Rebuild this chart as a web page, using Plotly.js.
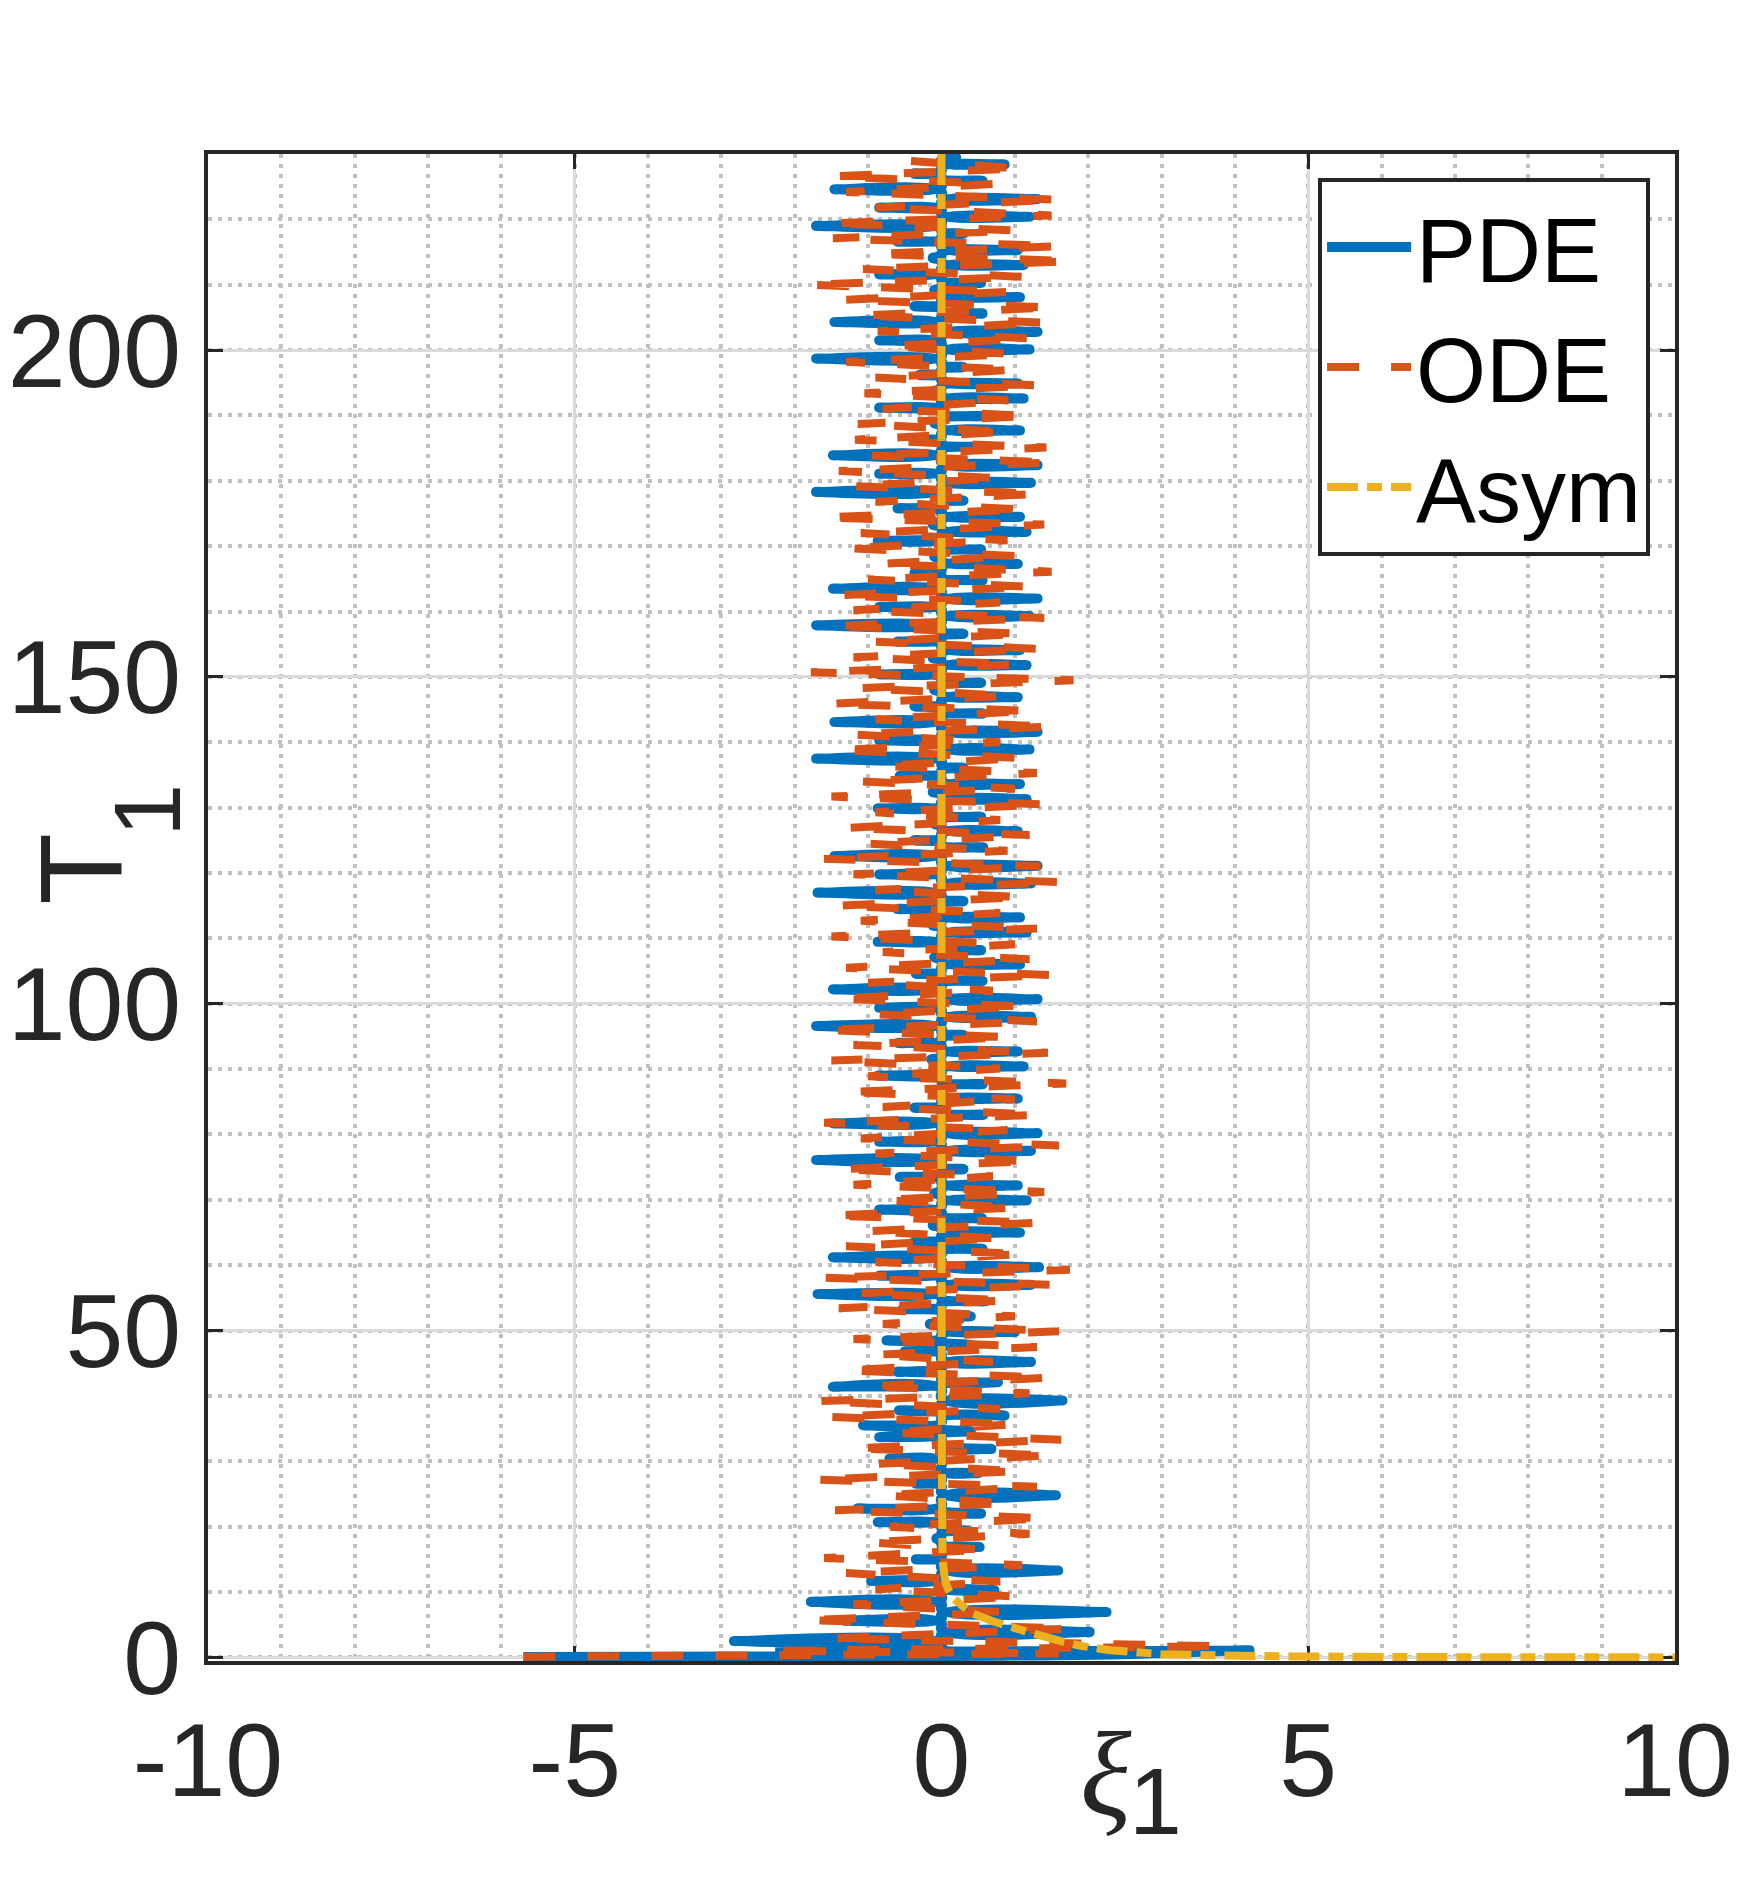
<!DOCTYPE html>
<html>
<head>
<meta charset="utf-8">
<script src="https://cdn.plot.ly/plotly-3.0.1.min.js"></script>
<style>
  html, body { margin: 0; padding: 0; background: #fff; }
  #chart { width: 1764px; height: 1882px; }
</style>
</head>
<body>
<div id="chart"></div>
<script>
// PDE trajectory: each swing leaves the centre line,
// reaches its tip and comes back (centre, tip, centre)
const pdeT = [
  0.05, 0.2, 0.4, 0.55, 0.75, 0.9, 1.1, 1.4,
  2.15,2.5,2.85, 3.55,3.9,4.25, 5.25,5.6,5.95, 6.6,6.95,7.3, 8.15,8.5,8.85,
  9.95,10.3,10.65, 11.35,11.7,12.05, 12.95,13.3,13.65, 14.65,15.0,15.35, 16.55,16.9,17.25,
  17.85,18.2,18.55, 19.05,19.4,19.75, 20.35,20.7,21.05, 21.65,22.0,22.35, 22.45,22.8,23.15,
  24.45,24.8,25.15, 26.25,26.6,26.95, 27.85,28.2,28.55, 30.05,30.4,30.75, 31.55,31.9,32.25,
  33.35,33.7,34.05, 34.25,34.6,34.95, 35.15,35.5,35.85, 36.65,37.0,37.35, 37.45,37.8,38.15,
  38.95,39.3,39.65, 41.05,41.4,41.75, 41.85,42.1,42.35, 43.35,43.7,44.05, 44.85,45.2,45.55,
  46.45,46.8,47.15, 47.45,47.8,48.15, 48.2,48.5,48.85, 49.45,49.8,50.15, 50.65,51.0,51.35,
  51.85,52.2,52.55, 52.95,53.3,53.65, 54.15,54.5,54.85,
  55.25,55.6,55.95, 56.65,57.0,57.35, 58.05,58.4,58.75, 59.35,59.7,60.05, 60.85,61.2,61.55, 62.15,62.5,62.85,
  63.25,63.6,63.95, 64.65,65.0,65.35, 65.75,66.1,66.45, 66.85,67.2,67.55, 68.15,68.5,68.85, 69.55,69.9,70.25,
  70.65,71.0,71.35, 71.85,72.2,72.55, 73.15,73.5,73.85, 74.35,74.7,75.05,
  75.75,76.1,76.45, 77.15,77.5,77.85, 78.55,78.9,79.25, 79.85,80.2,80.55, 81.35,81.7,82.05, 82.65,83.0,83.35,
  83.75,84.1,84.45, 85.15,85.5,85.85, 86.25,86.6,86.95, 87.35,87.7,88.05, 88.65,89.0,89.35, 90.05,90.4,90.75,
  91.15,91.5,91.85, 92.35,92.7,93.05, 93.65,94.0,94.35, 94.85,95.2,95.55,
  96.25,96.6,96.95, 97.65,98.0,98.35, 99.05,99.4,99.75, 100.35,100.7,101.05, 101.85,102.2,102.55, 103.15,103.5,103.85,
  104.25,104.6,104.95, 105.65,106.0,106.35, 106.75,107.1,107.45, 107.85,108.2,108.55, 109.15,109.5,109.85, 110.55,110.9,111.25,
  111.65,112.0,112.35, 112.85,113.2,113.55, 114.15,114.5,114.85, 115.35,115.7,116.05,
  116.65,117.0,117.35, 118.05,118.4,118.75, 119.45,119.8,120.15, 120.75,121.1,121.45, 122.25,122.6,122.95, 123.55,123.9,124.25,
  124.65,125.0,125.35, 126.05,126.4,126.75, 127.15,127.5,127.85, 128.25,128.6,128.95, 129.55,129.9,130.25, 130.95,131.3,131.65,
  132.05,132.4,132.75, 133.25,133.6,133.95, 134.55,134.9,135.25, 135.75,136.1,136.45,
  137.15,137.5,137.85, 138.55,138.9,139.25, 139.95,140.3,140.65, 141.25,141.6,141.95, 142.75,143.1,143.45, 144.05,144.4,144.75,
  145.15,145.5,145.85, 146.55,146.9,147.25, 147.65,148.0,148.35, 148.75,149.1,149.45, 150.05,150.4,150.75, 151.45,151.8,152.15,
  152.55,152.9,153.25, 153.75,154.1,154.45, 155.05,155.4,155.75, 156.25,156.6,156.95,
  157.55,157.9,158.25, 158.95,159.3,159.65, 160.35,160.7,161.05, 161.65,162.0,162.35, 163.15,163.5,163.85, 164.45,164.8,165.15,
  165.55,165.9,166.25, 166.95,167.3,167.65, 168.05,168.4,168.75, 169.15,169.5,169.85, 170.45,170.8,171.15, 171.85,172.2,172.55,
  172.95,173.3,173.65, 174.15,174.5,174.85, 175.45,175.8,176.15, 176.65,177.0,177.35,
  177.95,178.3,178.65, 179.35,179.7,180.05, 180.75,181.1,181.45, 182.05,182.4,182.75, 183.55,183.9,184.25, 184.85,185.2,185.55,
  185.95,186.3,186.65, 187.35,187.7,188.05, 188.45,188.8,189.15, 189.55,189.9,190.25, 190.85,191.2,191.55, 192.25,192.6,192.95,
  193.35,193.7,194.05, 194.55,194.9,195.25, 195.85,196.2,196.55, 197.05,197.4,197.75,
  198.35,198.7,199.05, 199.75,200.1,200.45, 201.15,201.5,201.85, 202.45,202.8,203.15, 203.95,204.3,204.65, 205.25,205.6,205.95,
  206.35,206.7,207.05, 207.75,208.1,208.45, 208.85,209.2,209.55, 209.95,210.3,210.65, 211.25,211.6,211.95, 212.65,213.0,213.35,
  213.75,214.1,214.45, 214.95,215.3,215.65, 216.25,216.6,216.95, 217.45,217.8,218.15,
  218.65,219.0,219.35, 220.05,220.4,220.75, 221.45,221.8,222.15, 222.75,223.1,223.45, 224.25,224.6,224.95, 225.55,225.9,226.25,
  226.65,227.0,227.35, 228.05,228.4,228.75, 229.15,229.5,229.85
];
const pdeXi = [
  -5.7, 0, 1.7, 0, -2.2, 0, 4.2, 0,
  0,-2.83,0, 0,2.02,0, 0,-1.32,0, 0,2.25,0, 0,-1.78,0,
  0,0.72,0, 0,-0.96,0, 0,1.59,0, 0,-0.35,0, 0,0.52,0,
  0,-0.07,0, 0,0.35,0, 0,-0.87,0, 0,0.54,0, 0,-1.14,0,
  0,1.56,0, 0,-0.35,0, 0,0.5,0, 0,-0.71,0, 0,0.68,0,
  0,-0.85,0, 0,0.4,0, 0,-1.07,0, 0,0.86,0, 0,-0.58,0,
  0,1.65,0, 0,-1.48,0, 0,0.77,0, 0,-0.6,0, 0,1.22,0,
  0,-0.5,0, 0,0.4,0, 0,-0.75,0, 0,1.0,0, 0,-0.16,0,
  0,0.4,0, 0,-0.53,0, 0,0.6,0,
  0,-1.69,0, 0,1.22,0, 0,-0.85,0, 0,1.33,0, 0,-1.48,0, 0,0.56,0,
  0,-0.37,0, 0,1.07,0, 0,-0.12,0, 0,0.55,0, 0,-0.85,0, 0,1.16,0,
  0,-0.1,0, 0,1.04,0, 0,-0.57,0, 0,0.3,0,
  0,-1.71,0, 0,1.22,0, 0,-0.85,0, 0,1.31,0, 0,-1.48,0, 0,0.57,0,
  0,-0.37,0, 0,1.04,0, 0,-0.1,0, 0,0.56,0, 0,-0.87,0, 0,1.12,0,
  0,-0.14,0, 0,1.04,0, 0,-0.59,0, 0,0.3,0,
  0,-1.71,0, 0,1.22,0, 0,-0.85,0, 0,1.31,0, 0,-1.48,0, 0,0.56,0,
  0,-0.35,0, 0,1.07,0, 0,-0.1,0, 0,0.54,0, 0,-0.87,0, 0,1.16,0,
  0,-0.12,0, 0,1.07,0, 0,-0.6,0, 0,0.3,0,
  0,-1.69,0, 0,1.22,0, 0,-0.85,0, 0,1.31,0, 0,-1.46,0, 0,0.57,0,
  0,-0.37,0, 0,1.04,0, 0,-0.1,0, 0,0.54,0, 0,-0.87,0, 0,1.16,0,
  0,-0.12,0, 0,1.07,0, 0,-0.57,0, 0,0.3,0,
  0,-1.71,0, 0,1.2,0, 0,-0.85,0, 0,1.31,0, 0,-1.46,0, 0,0.56,0,
  0,-0.37,0, 0,1.04,0, 0,-0.1,0, 0,0.54,0, 0,-0.85,0, 0,1.16,0,
  0,-0.12,0, 0,1.07,0, 0,-0.6,0, 0,0.3,0,
  0,-1.71,0, 0,1.2,0, 0,-0.85,0, 0,1.31,0, 0,-1.48,0, 0,0.56,0,
  0,-0.37,0, 0,1.04,0, 0,-0.1,0, 0,0.54,0, 0,-0.87,0, 0,1.16,0,
  0,-0.12,0, 0,1.07,0, 0,-0.6,0, 0,0.3,0,
  0,-1.71,0, 0,1.22,0, 0,-0.85,0, 0,1.31,0, 0,-1.48,0, 0,0.56,0,
  0,-0.3,0, 0,1.07,0, 0,-0.1,0, 0,0.54,0, 0,-0.85,0, 0,1.12,0,
  0,-0.12,0, 0,1.04,0, 0,-0.3,0, 0,0.3,0,
  0,-1.71,0, 0,1.2,0, 0,-0.85,0, 0,1.31,0, 0,-1.46,0, 0,0.56,0,
  0,-0.37,0, 0,1.07,0, 0,-0.1,0, 0,0.54,0, 0,-0.85,0, 0,1.12,0,
  0,-0.12,0, 0,1.04,0, 0,-0.6,0, 0,0.3,0,
  0,-1.71,0, 0,1.2,0, 0,-0.85,0, 0,1.31,0, 0,-1.46,0, 0,0.56,0,
  0,-0.38,0, 0,0.86,0, 0,0.2,0
];

// ODE trajectory: turning points
const odeT = [
  0.1, 0.6, 1.0, 1.7, 2.9, 4.4, 5.7, 6.9, 8.1, 9.3,
  10.4, 11.6, 12.9, 14.1, 15.2, 16.5, 17.6, 18.9, 20.0, 21.3,
  22.5, 23.6, 24.8, 26.1, 27.2, 28.5, 29.6, 30.9, 32.0, 33.3,
  34.4, 35.7, 36.8, 38.0, 39.2, 40.4, 41.5, 42.8, 43.9, 45.2,
  46.3, 47.5, 48.7, 49.9, 51.0, 52.2, 53.4, 54.6, 55.7, 57.0,
  58.1, 59.3, 60.5, 61.7, 62.9, 64.1, 65.2, 66.5, 67.6, 68.8,
  70.0, 71.2, 72.3, 73.6, 74.7, 75.9, 77.1, 78.3, 79.4, 80.7,
  81.8, 83.0, 84.2, 85.4, 86.5, 87.8, 88.9, 90.1, 91.3, 92.5,
  93.7, 94.9, 96.0, 97.3, 98.4, 99.6, 100.8, 102.0, 103.2, 104.4,
  105.5, 106.8, 107.9, 109.1, 110.3, 111.5, 112.7, 113.9, 115.0, 116.3,
  117.4, 118.6, 119.8, 121.0, 122.2, 123.4, 124.5, 125.8, 126.9, 128.1,
  129.3, 130.5, 131.7, 132.9, 134.0, 135.3, 136.4, 137.6, 138.8, 140.0,
  141.2, 142.4, 143.5, 144.8, 145.9, 147.1, 148.3, 149.5, 150.7, 151.9,
  153.0, 154.3, 155.4, 156.6, 157.8, 159.0, 160.2, 161.4, 162.5, 163.8,
  164.9, 166.1, 167.3, 168.5, 169.7, 170.9, 172.0, 173.3, 174.4, 175.6,
  176.8, 178.0, 179.2, 180.4, 181.5, 182.8, 183.9, 185.1, 186.3, 187.5,
  188.7, 189.9, 191.0, 192.3, 193.4, 194.6, 195.8, 197.0, 198.2, 199.4,
  200.6, 201.8, 202.9, 204.2, 205.3, 206.5, 207.7, 208.9, 210.0, 211.2,
  212.4, 213.6, 214.7, 215.9, 217.1, 218.3, 219.4, 220.6, 221.8, 223.0,
  224.2, 225.4, 226.6, 227.8, 229.0
];
const odeXi = [
  -5.7, 1.6, -2.3, 3.8, -1.5, 1.73, -1.85, 0.9, -1.2, 1.05,
  -0.9, 0.8, -1.3, 1.1, -1.6, 0.6, -1.0, 1.2, -0.7, 1.4,
  -1.45, 0.9, -0.8, 1.3, -1.7, 1.05, -0.9, 1.49, -1.2, 1.63,
  -0.7, 1.0, -1.5, 0.8, -1.66, 1.2, -1.0, 1.45, -1.3, 0.7,
  -0.9, 1.3, -1.2, 1.6, -0.8, 1.0, -1.4, 0.9, -1.1, 1.5,
  -1.6, 1.75, -0.9, 1.1, -1.3, 0.8, -1.0, 1.3, -1.5, 1.0,
  -0.8, 1.4, -1.2, 0.7, -1.4, 1.2, -0.9, 1.6, -1.1, 0.9,
  -1.6, 1.3, -0.8, 1.0, -1.3, 1.7, -1.0, 0.8, -1.5, 1.45,
  -1.2, 0.9, -1.6, 1.3, -0.9, 1.1, -1.4, 0.7, -1.0, 1.5,
  -1.3, 1.2, -0.8, 1.0, -1.5, 1.3, -1.1, 0.8, -1.4, 1.1,
  -0.9, 1.6, -1.2, 1.35, -1.6, 0.9, -1.0, 1.2, -1.3, 0.8,
  -0.9, 1.4, -1.5, 1.0, -1.1, 1.3, -0.8, 1.1, -1.4, 0.8,
  -1.2, 1.5, -0.9, 1.2, -1.5, 0.9, -1.1, 1.8, -1.78, 1.0,
  -1.2, 1.3, -0.9, 1.1, -1.5, 1.4, -1.2, 0.8, -1.4, 1.2,
  -1.0, 1.5, -0.8, 1.0, -1.3, 0.9, -1.1, 1.4, -1.6, 1.1,
  -0.9, 1.3, -1.2, 0.8, -1.4, 1.5, -1.0, 1.43, -1.18, 0.9,
  -1.14, 1.2, -0.8, 0.91, -1.05, 1.3, -0.9, 1.0, -1.3, 0.95,
  -0.7, 1.2, -0.87, 1.4, -1.1, 1.5, -1.3, 0.9, -1.82, 1.1,
  -1.07, 1.75, -0.9, 1.57, -1.48, 1.0, -1.52, 1.5, -0.9, 1.59,
  -1.3, 0.7, -1.43, 1.06, -0.5
];

// asymptotic curve
const asymT = [230, 150, 80, 30, 17, 14.4, 12.5, 11.3, 10.2, 9.2, 8.0, 6.7, 5.6, 4.6, 3.8, 3.1, 2.4, 1.8, 1.1, 0.5, 0.3, 0.15, 0.05, 0];
const asymXi = [0, 0, 0, 0.005, 0.012, 0.02, 0.04, 0.06, 0.1, 0.15, 0.27, 0.43, 0.68, 0.97, 1.2, 1.43, 1.65, 1.88, 2.3, 3.0, 3.8, 4.8, 6.5, 10];

const seriesNames = ['PDE', 'ODE', 'Asym'];
const xTickVals = [-10, -5, 0, 5, 10];
const xTickText = ['-10', '-5', '0', '5', '10'];
const yTickVals = [0, 50, 100, 150, 200];

const axisColor = '#262626';
const sans = 'Liberation Sans, Arial, sans-serif';

const traces = [
  {x: pdeXi, y: pdeT, name: seriesNames[0], type: 'scatter', mode: 'lines',
   line: {color: '#0072BD', width: 10, shape: 'spline', smoothing: 1.3, simplify: false}},
  {x: odeXi, y: odeT, name: seriesNames[1], type: 'scatter', mode: 'lines',
   line: {color: '#D95319', width: 8, dash: '32px,32px', simplify: false}},
  {x: asymXi, y: asymT, name: seriesNames[2], type: 'scatter', mode: 'lines',
   line: {color: '#EDB120', width: 8, dash: '31px,9px,15px,9px', simplify: false}}
];

const common = {
  ticks: 'inside', ticklen: 15, tickwidth: 3, tickcolor: axisColor,
  showline: true, linewidth: 4, linecolor: axisColor, mirror: 'ticks',
  showgrid: true, gridcolor: '#dadada', gridwidth: 3, zeroline: false,
  tickfont: {family: sans, size: 104, color: axisColor},
  layer: 'below traces'
};
const minorGrid = {showgrid: true, gridcolor: '#c0c0c0', gridwidth: 4, griddash: '4px,6px', ticks: ''};

const layout = {
  width: 1764, height: 1882,
  margin: {l: 208, r: 89, t: 154, b: 221},
  paper_bgcolor: '#ffffff', plot_bgcolor: '#ffffff',
  font: {family: sans, color: axisColor},
  showlegend: true,
  legend: {
    x: 0.983, y: 0.984, xanchor: 'right', yanchor: 'top',
    bgcolor: '#ffffff', bordercolor: axisColor, borderwidth: 4,
    font: {family: sans, size: 90, color: '#000000'},
    itemwidth: 84
  },
  xaxis: Object.assign({}, common, {
    range: [-10, 10], tickvals: xTickVals, ticktext: xTickText,
    ticklabelstandoff: 6,
    minor: Object.assign({dtick: 1}, minorGrid)
  }),
  yaxis: Object.assign({}, common, {
    range: [-0.55, 230], tickvals: yTickVals,
    ticklabelstandoff: 2,
    minor: Object.assign({dtick: 10}, minorGrid)
  }),
  annotations: [
    {text: 'T', xref: 'paper', yref: 'y', x: -0.0866, y: 120.7, textangle: -90,
     showarrow: false, xanchor: 'center', yanchor: 'middle',
     font: {family: sans, size: 117, color: axisColor}},
    {text: '1', xref: 'paper', yref: 'y', x: -0.0412, y: 129.6, textangle: -90,
     showarrow: false, xanchor: 'center', yanchor: 'middle',
     font: {family: sans, size: 95, color: axisColor}},
    {text: 'ξ', xref: 'x', yref: 'paper', x: 2.24, y: -0.0756,
     showarrow: false, xanchor: 'center', yanchor: 'middle',
     font: {family: 'Liberation Serif, DejaVu Serif, serif', size: 120, style: 'italic', color: axisColor}},
    {text: '1', xref: 'x', yref: 'paper', x: 2.92, y: -0.0929,
     showarrow: false, xanchor: 'center', yanchor: 'middle',
     font: {family: sans, size: 95, color: axisColor}}
  ]
};

Plotly.newPlot('chart', traces, layout, {displayModeBar: false, staticPlot: true});
</script>
</body>
</html>
